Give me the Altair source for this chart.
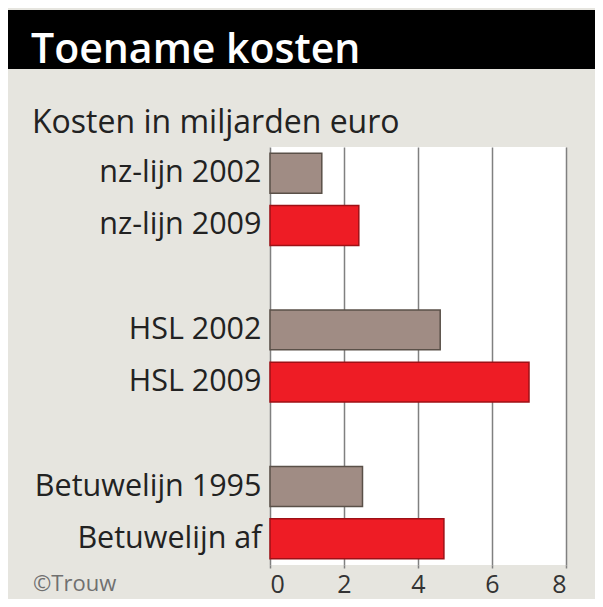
import altair as alt
import pandas as pd

categories = ["nz-lijn 2002", "nz-lijn 2009", "HSL 2002", "HSL 2009", "Betuwelijn 1995", "Betuwelijn af"]
values = [1.4, 2.4, 4.6, 7.0, 2.5, 4.7]
series = ["oud", "nieuw", "oud", "nieuw", "oud", "nieuw"]
y_domain = ["nz-lijn 2002", "nz-lijn 2009", " ", "HSL 2002", "HSL 2009", "  ", "Betuwelijn 1995", "Betuwelijn af"]
x_ticks = [0, 2, 4, 6, 8]

title_text = "Toename kosten"
subtitle_text = "Kosten in miljarden euro"
source_text = "\u00a9Trouw"

df = pd.DataFrame({"cat": categories, "val": values, "serie": series})

FONT = "Open Sans"
W, H = 296, 418

bars = alt.Chart(df).mark_bar(strokeWidth=1.5).encode(
    x=alt.X("val:Q", scale=alt.Scale(domain=[0, 8], nice=False),
            axis=alt.Axis(values=x_ticks, grid=True, gridColor="#808080", gridWidth=1.5,
                          ticks=True, tickColor="#808080", tickWidth=1.5, tickSize=3,
                          domain=False, labelFontSize=25, labelFont=FONT, labelColor="#333333",
                          labelPadding=4, title=None)),
    y=alt.Y("cat:N", scale=alt.Scale(domain=y_domain, paddingInner=0.235, paddingOuter=0.12),
            axis=alt.Axis(domain=False, ticks=False, grid=False, labelFontSize=30.5, labelFont=FONT,
                          labelColor="#222222", labelPadding=9, labelLimit=400, title=None)),
    color=alt.Color("serie:N", scale=alt.Scale(domain=["oud", "nieuw"], range=["#a08c84", "#ee1c25"]),
                    legend=None),
    stroke=alt.Stroke("serie:N", scale=alt.Scale(domain=["oud", "nieuw"], range=["#5a5048", "#9e1016"]),
                      legend=None),
)

header = alt.Chart(df).mark_rect(color="black").encode(
    x=alt.value(-263), x2=alt.value(333), y=alt.value(-137), y2=alt.value(-78)
)

def label(txt, x, y, size, color, weight="normal"):
    return alt.Chart(pd.DataFrame({"t": [txt]})).mark_text(
        align="left", baseline="alphabetic", font=FONT, fontSize=size, color=color, fontWeight=weight
    ).encode(x=alt.value(x), y=alt.value(y), text="t:N")

title = label(title_text, -239, -84, 41, "white", 600)
subtitle = label(subtitle_text, -238, -14, 32, "#222222")
source = label(source_text, -237, 444, 22, "#707070")

chart = alt.layer(bars, header, title, subtitle, source).properties(
    width=W, height=H,
    background="#e6e5df",
    padding={"left": 262, "top": 139, "right": 29, "bottom": 34},
    autosize=alt.AutoSizeParams(type="none"),
).configure_view(fill="white", stroke=None)

chart.save("out.html", embed_options={"renderer": "svg", "actions": False})
